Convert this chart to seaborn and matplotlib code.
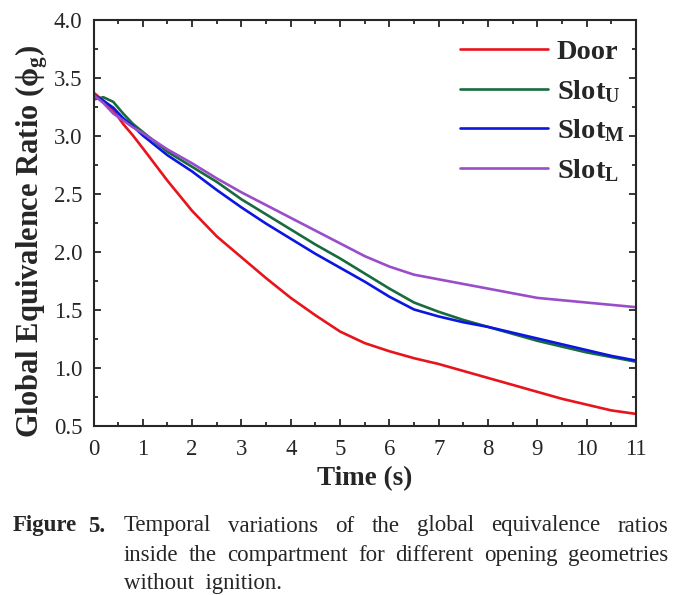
import numpy as np
import pandas as pd
import matplotlib
matplotlib.use("Agg")
import matplotlib.pyplot as plt
import seaborn as sns

time = [0, 0.2, 0.4, 0.6, 0.8, 1.0, 1.5, 2, 2.5, 3, 3.5, 4, 4.5, 5, 5.5, 6,
        6.5, 7, 7.5, 8, 8.5, 9, 9.5, 10, 10.5, 11]
door = [3.37, 3.30, 3.22, 3.10, 3.00, 2.89, 2.61, 2.35, 2.13, 1.95, 1.77, 1.60,
        1.45, 1.31, 1.21, 1.14, 1.08, 1.03, 0.97, 0.91, 0.85, 0.79, 0.73, 0.68,
        0.63, 0.60]
slot_u = [3.31, 3.33, 3.29, 3.19, 3.10, 3.03, 2.86, 2.73, 2.60, 2.45, 2.32, 2.19,
          2.06, 1.94, 1.81, 1.68, 1.56, 1.48, 1.41, 1.35, 1.29, 1.23, 1.18, 1.13,
          1.09, 1.05]
slot_m = [3.35, 3.30, 3.24, 3.15, 3.08, 3.00, 2.83, 2.69, 2.53, 2.38, 2.24, 2.11,
          1.98, 1.86, 1.74, 1.61, 1.50, 1.44, 1.39, 1.35, 1.30, 1.25, 1.20, 1.15,
          1.10, 1.06]
slot_l = [3.35, 3.28, 3.19, 3.13, 3.07, 3.02, 2.88, 2.76, 2.63, 2.51, 2.40, 2.29,
          2.18, 2.07, 1.96, 1.87, 1.80, 1.76, 1.72, 1.68, 1.64, 1.60, 1.58, 1.56,
          1.54, 1.52]
labels = ["Door", r"Slot$_\mathbf{U}$", r"Slot$_\mathbf{M}$", r"Slot$_\mathbf{L}$"]
colors = ["#e8141c", "#176b3d", "#0b17e0", "#9a4dc9"]
xticks = list(range(0, 12))
yticks = [0.5, 1.0, 1.5, 2.0, 2.5, 3.0, 3.5, 4.0]
caption_lines = ["Temporal variations of the global equivalence ratios",
                 "inside the compartment for different opening geometries",
                 "without  ignition."]

rows = []
for lab, vals in zip(labels, [door, slot_u, slot_m, slot_l]):
    for t, v in zip(time, vals):
        rows.append({"Time": t, "Phi": v, "Case": lab})
df = pd.DataFrame(rows)

sns.set_style("ticks")
plt.rcParams["font.family"] = ["Liberation Serif", "DejaVu Serif"]
plt.rcParams["mathtext.fontset"] = "custom"
plt.rcParams["mathtext.rm"] = "Liberation Serif"
plt.rcParams["mathtext.it"] = "Liberation Serif:italic"
plt.rcParams["mathtext.bf"] = "Liberation Serif:bold"

W, H = 686, 595
fig = plt.figure(figsize=(W / 100, H / 100), dpi=100)
ax = fig.add_axes([93.5 / W, 1 - 425.5 / H, 542.5 / W, 406 / H])

sns.lineplot(data=df, x="Time", y="Phi", hue="Case", palette=colors,
             hue_order=labels, linewidth=1.9, ax=ax, legend=True)

ax.set_xlim(0, 11)
ax.set_ylim(0.5, 4.0)
ax.set_xticks(xticks)
ax.set_xticks(np.arange(0, 11.01, 0.5), minor=True)
ax.set_yticks(yticks)
ax.set_yticks(np.arange(0.5, 4.01, 0.25), minor=True)
ax.set_yticklabels([f"{v:.1f}" for v in yticks])
ax.tick_params(which="both", direction="in", top=True, right=True,
               labelsize=16.5, width=1.3)
ax.tick_params(which="major", length=5)
ax.tick_params(which="minor", length=3)
ax.tick_params(axis="x", which="major", pad=10)
ax.tick_params(axis="y", which="major", pad=8)
for s in ax.spines.values():
    s.set_linewidth(1.5)

ax.set_xlabel("Time (s)", fontsize=19.5, fontweight="bold", labelpad=4)
ax.set_ylabel(r"Global Equivalence Ratio ($\mathbf{\phi_g}$)", fontsize=22,
              fontweight="bold")
ax.yaxis.label.set_va("center")
ax.yaxis.label.set_ha("center")
ax.yaxis.set_label_coords((32 - 93.5) / 542.5, (425.5 - 241.5) / 406)

leg = ax.legend(loc="upper left", bbox_to_anchor=((460 - 93.5) / 542.5, 0.952),
                frameon=False, handlelength=3.1, borderpad=0, borderaxespad=0,
                prop={"weight": "bold", "size": 20.5}, labelspacing=0.45,
                handletextpad=0.3)

# caption with justification
fig.canvas.draw()
renderer = fig.canvas.get_renderer()
cap_size = 16.5
fig.text(13 / W, 1 - 531.5 / H, "Figure", fontsize=cap_size,
         fontweight="bold", va="baseline", ha="left")
fig.text(105 / W, 1 - 531.5 / H, "5.", fontsize=cap_size,
         fontweight="bold", va="baseline", ha="right")
x0, x1 = 124, 668
baselines = [531.5, 561, 588.5]
for i, (line, yb) in enumerate(zip(caption_lines, baselines)):
    words = line.split()
    y = 1 - yb / H
    if i < len(caption_lines) - 1:
        texts = [fig.text(0, y, w, fontsize=cap_size, va="baseline") for w in words]
        widths = [t.get_window_extent(renderer).width for t in texts]
        gap = (x1 - x0 - sum(widths)) / (len(words) - 1)
        xp = x0
        for t, w in zip(texts, widths):
            t.set_x(xp / W)
            xp += w + gap
    else:
        fig.text(x0 / W, y, line, fontsize=cap_size, va="baseline")

fig.savefig("out.png", dpi=100)
